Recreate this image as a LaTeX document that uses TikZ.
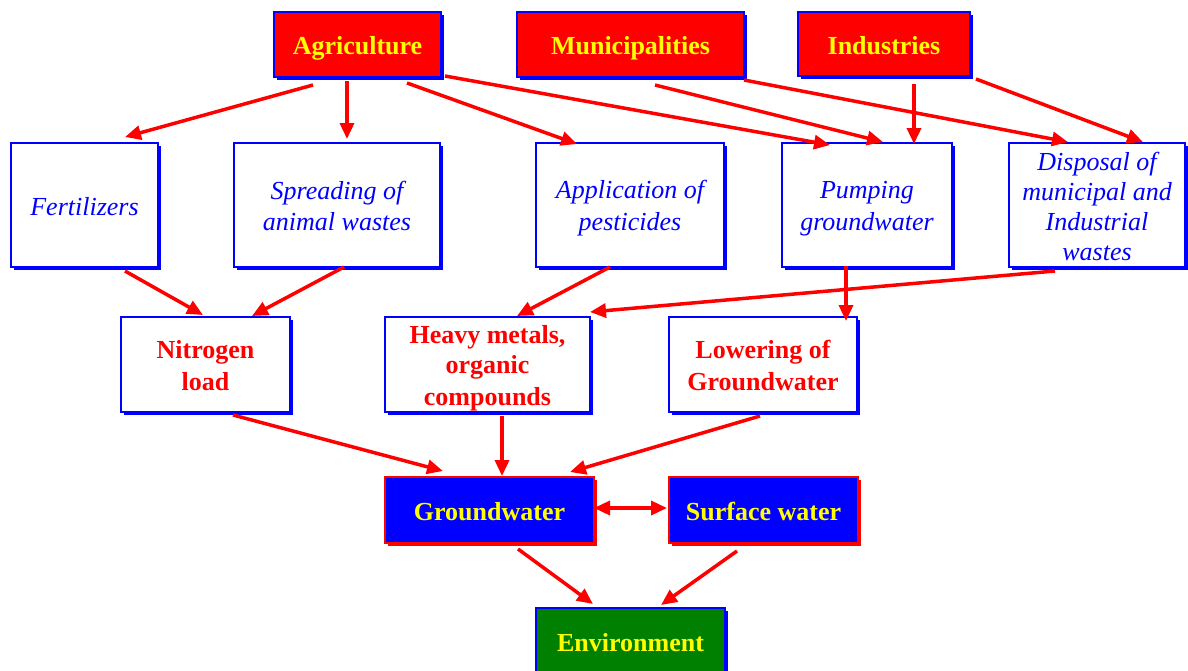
\documentclass[tikz,border=0pt]{standalone}
\usepackage{fontspec}
\setmainfont{Liberation Serif}
\usetikzlibrary{arrows.meta,shadows,calc}
\definecolor{pred}{HTML}{FF0000}
\definecolor{pblue}{HTML}{0000FF}
\definecolor{pyellow}{HTML}{FFFF00}
\definecolor{pgreen}{HTML}{008000}
\newcommand{\st}{\rule[-5pt]{0pt}{30pt}}
\tikzset{
  box/.style={draw, line width=2pt, inner sep=0pt, align=center},
  srcbox/.style={box, draw=pblue, fill=pred, text=pyellow, font=\fontsize{26}{30}\selectfont\bfseries,
    drop shadow={shadow xshift=3pt, shadow yshift=-3pt, fill=pblue, opacity=1}},
  actbox/.style={box, draw=pblue, fill=white, text=pblue, font=\fontsize{26}{30}\selectfont\itshape,
    drop shadow={shadow xshift=3pt, shadow yshift=-3pt, fill=pblue, opacity=1}},
  effbox/.style={box, draw=pblue, fill=white, text=pred, font=\fontsize{26}{30}\selectfont\bfseries,
    drop shadow={shadow xshift=3pt, shadow yshift=-3pt, fill=pblue, opacity=1}},
  waterbox/.style={box, draw=pred, fill=pblue, text=pyellow, font=\fontsize{26}{30}\selectfont\bfseries,
    drop shadow={shadow xshift=3pt, shadow yshift=-3pt, fill=pred, opacity=1}},
  envbox/.style={box, draw=pblue, fill=pgreen, text=pyellow, font=\fontsize{26}{30}\selectfont\bfseries,
    drop shadow={shadow xshift=3pt, shadow yshift=-3pt, fill=pblue, opacity=1}},
  conn/.style={draw=pred, line width=3.5pt, -{Triangle[length=16pt,width=14pt]}},
  biconn/.style={draw=pred, line width=3.5pt, {Triangle[length=16pt,width=14pt]}-{Triangle[length=16pt,width=14pt]}},
}
\begin{document}
\begin{tikzpicture}[x=1pt,y=-1pt]
\useasboundingbox (0,0) rectangle (1188,670);
% top row
\node[srcbox, minimum width=167pt, minimum height=65pt] (agri) at (357.5,44.5) {\st Agriculture\st};
\node[srcbox, minimum width=227pt, minimum height=65pt] (muni) at (630.5,44.5) {\st Municipalities\st};
\node[srcbox, minimum width=172pt, minimum height=64pt] (indu) at (884,44) {\st Industries\st};
% second row
\node[actbox, minimum width=147pt, minimum height=124pt] (fert) at (84.5,205) {\st Fertilizers\st};
\node[actbox, minimum width=206pt, minimum height=124pt] (spread) at (337,205) {\st Spreading of\\animal wastes\st};
\node[actbox, minimum width=188pt, minimum height=124pt] (appl) at (630,205) {\st Application of\\pesticides\st};
\node[actbox, minimum width=170pt, minimum height=124pt] (pump) at (867,205) {\st Pumping\\groundwater\st};
\node[actbox, minimum width=176pt, minimum height=124pt] (disp) at (1097,205) {\st Disposal of\\municipal and\\Industrial\\wastes\st};
% third row
\node[effbox, minimum width=169pt, minimum height=95pt] (nitro) at (205.5,364.5) {\st Nitrogen\\load\st};
\node[effbox, minimum width=205pt, minimum height=95pt] (heavy) at (487.5,364.5) {\st Heavy metals,\\organic\\compounds\st};
\node[effbox, minimum width=188pt, minimum height=95pt] (lower) at (763,364.5) {\st Lowering of\\Groundwater\st};
% water row
\node[waterbox, minimum width=209pt, minimum height=66pt] (gw) at (489.5,510) {\st Groundwater\st};
\node[waterbox, minimum width=189pt, minimum height=66pt] (sw) at (763.5,510) {\st Surface water\st};
% environment
\node[envbox, minimum width=189pt, minimum height=66pt] (env) at (630.5,641) {\st Environment\st};
% connectors
\draw[conn] ($(agri.south)+(-44.5,7)$) -- ($(fert.north)+(40.5,-5)$);
\draw[conn] ($(agri.south)+(-10.5,3)$) -- ($(spread.north)+(10,-3)$);
\draw[conn] ($(agri.south)+(49.5,5)$) -- ($(appl.north)+(-53,2)$);
\draw[conn] ($(agri.south east)+(3,-2)$) -- ($(pump.north)+(-37,3)$);
\draw[conn] ($(muni.south)+(24.5,7)$) -- ($(pump.north)+(16,0)$);
\draw[conn] ($(muni.south east)+(-1,2)$) -- ($(disp.north)+(-29,0)$);
\draw[conn] ($(indu.south)+(30,7)$) -- ($(pump.north)+(47,2)$);
\draw[conn] ($(indu.south east)+(5,2)$) -- ($(disp.north)+(46,0)$);
\draw[conn] ($(fert.south)+(40.5,3)$) -- ($(nitro.north)+(-2.5,-1)$);
\draw[conn] ($(spread.south)+(7,-1)$) -- ($(nitro.north)+(46.5,0)$);
\draw[conn] ($(appl.south)+(-20,-1)$) -- ($(heavy.north)+(29.5,0)$);
\draw[conn] ($(disp.south)+(-42,3)$) -- ($(heavy.north east)+(-1,-4)$);
\draw[conn] ($(pump.south)+(-21,-2)$) -- ($(lower.north)+(83,5)$);
\draw[conn] ($(nitro.south)+(27.5,2)$) -- ($(gw.north)+(-46.5,-5)$);
\draw[conn] ($(heavy.south)+(14.5,3)$) -- ($(gw.north)+(12.5,0)$);
\draw[conn] ($(lower.south)+(-3,3)$) -- ($(gw.north)+(80.5,-4)$);
\draw[biconn] ($(gw.east)+(-1,-2)$) -- ($(sw.west)+(-1,-2)$);
\draw[conn] ($(gw.south)+(28.5,5)$) -- ($(env.north)+(-37.5,-3)$);
\draw[conn] ($(sw.south)+(-26.5,7)$) -- ($(env.north)+(30.5,-2)$);
\end{tikzpicture}
\end{document}
